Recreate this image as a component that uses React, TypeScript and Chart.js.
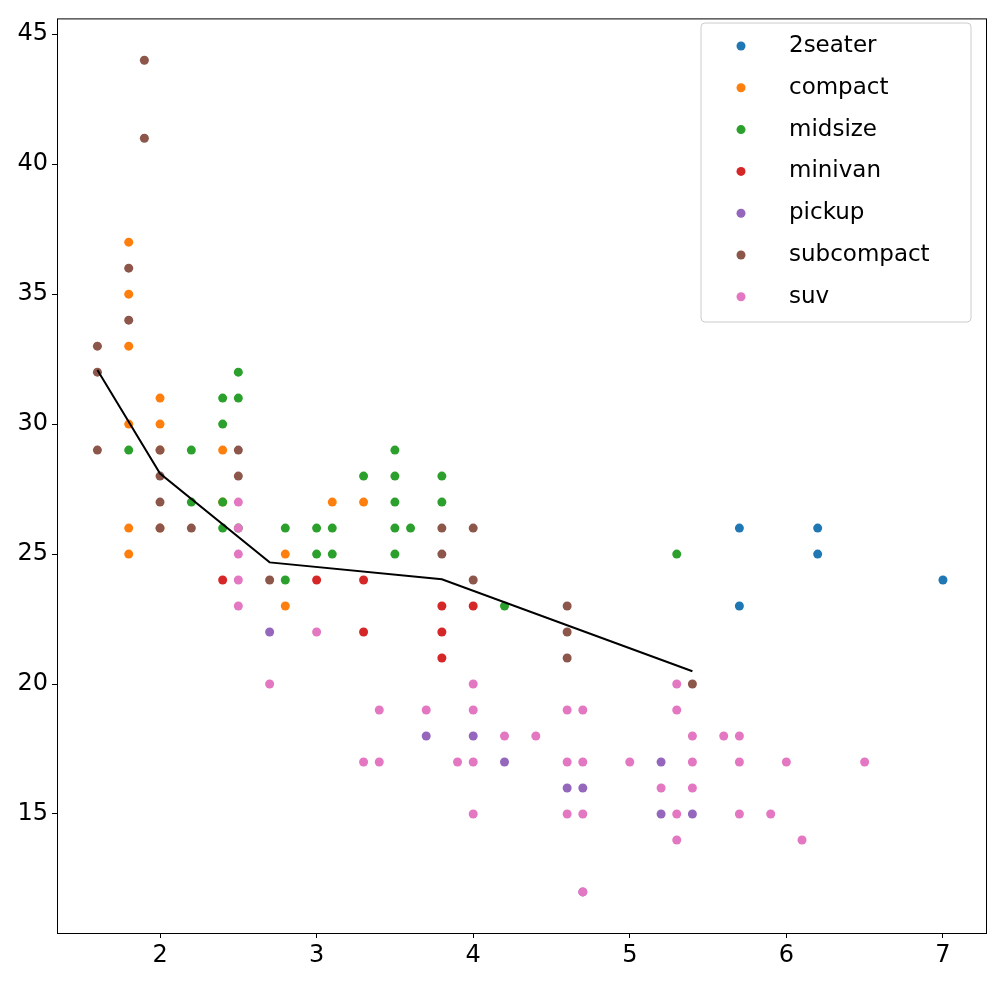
import React, { useEffect, useRef } from "react";
import { Chart, registerables } from "chart.js";
Chart.register(...registerables);

const classes = ["2seater", "compact", "midsize", "minivan", "pickup", "subcompact", "suv"];
const colors = ["#1f77b4", "#ff7f0e", "#2ca02c", "#d62728", "#9467bd", "#8c564b", "#e377c2"];

const twoseater = [[5.7,26],[5.7,23],[6.2,26],[6.2,25],[7.0,24]];
const compact = [[1.8,37],[1.8,35],[1.8,33],[1.8,30],[1.8,26],[1.8,25],[2.0,31],[2.0,30],[2.0,29],[2.0,26],[2.4,29],[2.4,27],[2.8,25],[2.8,23],[3.1,27],[3.3,27]];
const midsize = [[1.8,29],[2.2,29],[2.2,27],[2.4,31],[2.4,30],[2.4,27],[2.4,26],[2.5,32],[2.5,31],[2.5,26],[2.8,26],[2.8,24],[3.0,26],[3.0,25],[3.1,26],[3.1,25],[3.3,28],[3.5,29],[3.5,28],[3.5,27],[3.5,26],[3.5,25],[3.6,26],[3.8,28],[3.8,27],[4.2,23],[5.3,25]];
const minivan = [[2.4,24],[3.0,24],[3.3,24],[3.3,22],[3.8,23],[3.8,22],[3.8,21],[4.0,23]];
const pickup = [[2.7,22],[3.7,18],[4.0,18],[4.2,17],[4.6,16],[4.7,16],[4.7,12],[5.2,17],[5.2,15],[5.4,15]];
const subcompact = [[1.6,33],[1.6,32],[1.6,29],[1.8,36],[1.8,34],[1.9,44],[1.9,41],[2.0,29],[2.0,28],[2.0,27],[2.0,26],[2.2,26],[2.5,29],[2.5,28],[2.7,24],[3.8,26],[3.8,25],[4.0,26],[4.0,24],[4.6,23],[4.6,22],[4.6,21],[5.4,20]];
const suv = [[2.5,27],[2.5,26],[2.5,25],[2.5,24],[2.5,23],[2.7,20],[3.0,22],[3.3,17],[3.4,19],[3.4,17],[3.7,19],[3.9,17],[4.0,20],[4.0,19],[4.0,17],[4.0,15],[4.2,18],[4.4,18],[4.6,19],[4.6,17],[4.6,15],[4.7,19],[4.7,17],[4.7,15],[4.7,12],[5.0,17],[5.2,16],[5.3,20],[5.3,19],[5.3,15],[5.3,14],[5.4,18],[5.4,17],[5.4,16],[5.6,18],[5.7,18],[5.7,17],[5.7,15],[5.9,15],[6.0,17],[6.1,14],[6.5,17]];
const series = [twoseater, compact, midsize, minivan, pickup, subcompact, suv];

const trendX = [1.6, 2.0, 2.7, 3.8, 5.4];
const trendY = [32.08, 28.1, 24.68, 24.03, 20.49];

const xTicks = [2, 3, 4, 5, 6, 7];
const yTicks = [15, 20, 25, 30, 35, 40, 45];

const FONT = "DejaVu Sans";

export default function App() {
  const ref = useRef<HTMLCanvasElement>(null);
  useEffect(() => {
    document.body.style.margin = "0";
    const frame = {
      id: "frame",
      afterDatasetsDraw(c: any) {
        const { ctx, chartArea: a } = c;
        ctx.save();
        ctx.strokeStyle = "#000";
        ctx.lineWidth = 1;
        ctx.strokeRect(a.left + 0.5, a.top + 0.5, a.right - a.left, a.bottom - a.top);
        const lx = 701, ly = 23, lw = 270, lh = 299;
        ctx.fillStyle = "rgba(255,255,255,0.8)";
        ctx.strokeStyle = "#cccccc";
        ctx.beginPath();
        (ctx as any).roundRect(lx, ly, lw, lh, 4);
        ctx.fill();
        ctx.stroke();
        ctx.font = `23px "${FONT}"`;
        ctx.textBaseline = "middle";
        classes.forEach((n, i) => {
          const y = 46 + i * 41.8;
          ctx.fillStyle = colors[i];
          ctx.beginPath();
          ctx.arc(741, y, 4.5, 0, Math.PI * 2);
          ctx.fill();
          ctx.fillStyle = "#000";
          ctx.fillText(n, 789, y);
        });
        ctx.restore();
      },
    };
    const datasets: any[] = series.map((s, i) => ({
      type: "scatter",
      label: classes[i],
      data: s.map(([x, y]) => ({ x, y })),
      backgroundColor: colors[i],
      borderWidth: 0,
      pointRadius: 4.5,
      order: 10 - i,
    }));
    datasets.push({
      type: "line",
      label: "trend",
      data: trendX.map((x, i) => ({ x, y: trendY[i] })),
      borderColor: "#000",
      borderWidth: 2,
      pointRadius: 0,
      fill: false,
      tension: 0,
      order: 0,
    });
    const tickCfg = (vals: number[]) => (s: any) => {
      s.ticks = vals.map((v) => ({ value: v }));
    };
    const chart = new Chart(ref.current!, {
      type: "scatter",
      data: { datasets },
      plugins: [frame],
      options: {
        animation: false,
        responsive: false,
        layout: { padding: { top: 3, right: 9, left: 0, bottom: 0 } },
        plugins: { legend: { display: false }, tooltip: { enabled: false } },
        scales: {
          x: {
            type: "linear",
            min: 1.342,
            max: 7.275,
            afterBuildTicks: tickCfg(xTicks),
            afterFit: (s: any) => { s.height = 48; },
            grid: { display: true, drawOnChartArea: false, drawTicks: true, tickLength: 5, color: "#000" },
            border: { display: false },
            ticks: { color: "#000", font: { family: FONT, size: 24 }, padding: 3, maxRotation: 0 },
          },
          y: {
            type: "linear",
            min: 10.42,
            max: 45.61,
            afterBuildTicks: tickCfg(yTicks),
            afterFit: (s: any) => { s.width = 57; },
            grid: { display: true, drawOnChartArea: false, drawTicks: true, tickLength: 5, color: "#000" },
            border: { display: false },
            ticks: { color: "#000", font: { family: FONT, size: 24 }, padding: 4 },
          },
        },
      },
    });
    return () => chart.destroy();
  }, []);
  return (
    <div style={{ width: 995, height: 981, background: "#fff" }}>
      <canvas ref={ref} width={995} height={981} style={{ width: 995, height: 981 }} />
    </div>
  );
}
